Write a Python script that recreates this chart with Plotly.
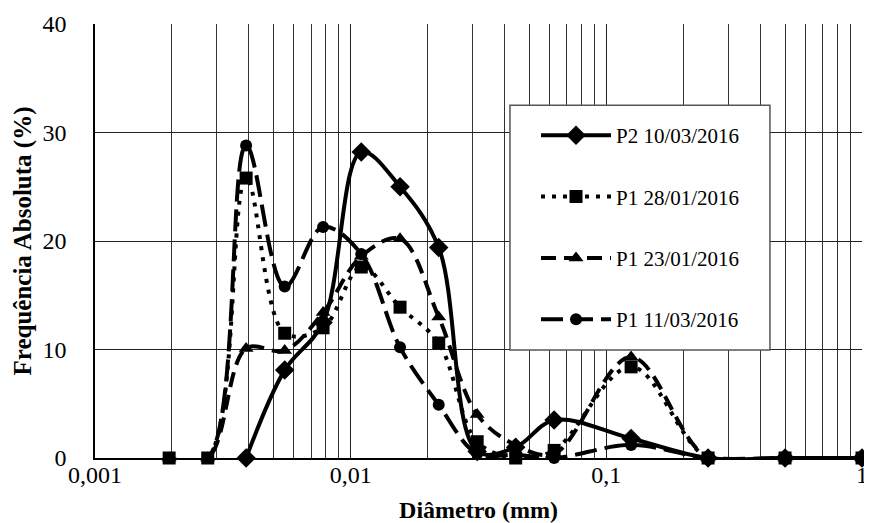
import plotly.graph_objects as go

diametro = [0.00195, 0.00276, 0.0039, 0.00552, 0.0078, 0.011, 0.0156, 0.0221,
            0.03125, 0.0442, 0.0625, 0.125, 0.25, 0.5, 1.0]

p2_1003 = [None, None, 0, 8.1, 12.5, 28.2, 25.0, 19.4, 0.6, 1.0, 3.5, 1.8, 0, 0, 0]
p1_2801 = [0, 0, 25.8, 11.5, 12.0, 17.6, 13.9, 10.6, 1.5, 0, 0.7, 8.4, 0, 0, 0]
p1_2301 = [0, 0, 10.1, 9.9, 13.4, 18.6, 20.2, 13.0, 4.0, 1.2, 0.4, 9.3, 0, 0, 0]
p1_1103 = [0, 0, 28.8, 15.8, 21.3, 18.8, 10.2, 4.9, 0.4, 0.3, 0, 1.2, 0, 0, 0]

series_names = ["P2 10/03/2016", "P1 28/01/2016", "P1 23/01/2016", "P1 11/03/2016"]
series_vals = [p2_1003, p1_2801, p1_2301, p1_1103]
dashes = ["solid", "4px,7px", "15px,8px", "22px,8px"]
symbols = ["diamond", "square", "triangle-up", "circle"]
msizes = [15, 13, 13, 12]

FONT = "Liberation Serif, Times New Roman, serif"

fig = go.Figure()
for i, (name, vals) in enumerate(zip(series_names, series_vals)):
    xs = [d for d, v in zip(diametro, vals) if v is not None]
    ys = [v for v in vals if v is not None]
    fig.add_trace(go.Scatter(
        x=xs, y=ys, name=name, mode="lines+markers",
        line=dict(color="black", width=4, dash=dashes[i], shape="spline", smoothing=1.0),
        marker=dict(symbol=symbols[i], size=msizes[i], color="black"),
        legendgroup=name, cliponaxis=False,
    ))

# legend frame
fig.add_shape(type="rect", xref="paper", yref="paper",
              x0=0.541, x1=0.880, y0=0.249, y1=0.813,
              line=dict(color="#555555", width=1.5), fillcolor="white", layer="above")

fig.update_layout(
    width=864, height=515,
    margin=dict(l=87, r=10, t=16, b=65),
    paper_bgcolor="white", plot_bgcolor="white",
    separators=",.",
    font=dict(family=FONT, color="black", size=24),
    showlegend=True,
    legend=dict(x=0.575, y=0.79, xanchor="left", yanchor="top",
                bgcolor="rgba(0,0,0,0)", borderwidth=0,
                font=dict(family=FONT, size=21, color="black"),
                tracegroupgap=31, itemwidth=70),
    xaxis=dict(type="log", range=[-3, 0], dtick=1, automargin=False,
               showgrid=True, gridcolor="#222222", gridwidth=1,
               minor=dict(dtick="D1", showgrid=True, gridcolor="#333333", gridwidth=1, ticks=""),
               showline=True, linecolor="black", linewidth=1.5,
               ticks="", ticklen=0, tickfont=dict(size=24),
               ticklabelstandoff=-6, ticklabeloverflow="allow",
               title=dict(text="<b>Diâmetro (mm)</b>", font=dict(size=24), standoff=17),
               zeroline=False),
    yaxis=dict(range=[0, 40], dtick=10, automargin=False,
               showgrid=True, gridcolor="#222222", gridwidth=1,
               showline=True, linecolor="black", linewidth=1.5,
               ticks="", ticklen=0, tickfont=dict(size=24), ticklabelstandoff=22,
               title=dict(text="<b>Frequência Absoluta (%)</b>", font=dict(size=25), standoff=4),
               zeroline=False),
)

fig.write_html("out.html")
